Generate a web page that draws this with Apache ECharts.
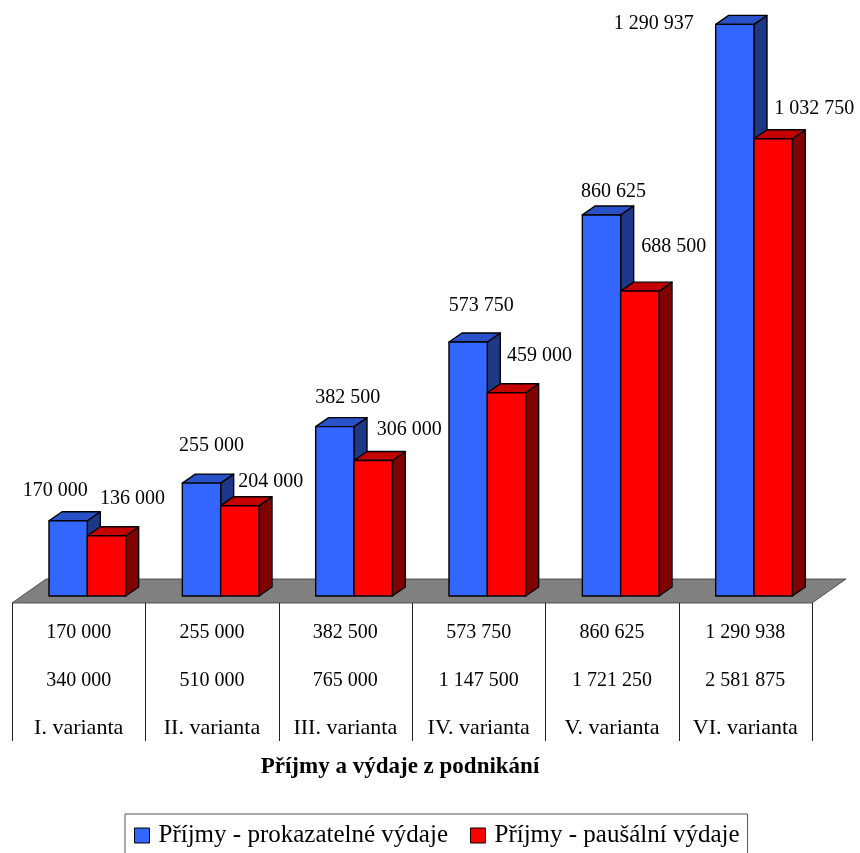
<!DOCTYPE html>
<html>
<head>
<meta charset="utf-8">
<script src="https://cdn.jsdelivr.net/npm/echarts@6/dist/echarts.min.js"></script>
<style>
  html, body { margin: 0; padding: 0; background: #fff; }
  #chart { width: 860px; height: 853px; }
</style>
</head>
<body>
<div id="chart"></div>
<script>
// Variants and the two income series
const categories = ['I. varianta', 'II. varianta', 'III. varianta', 'IV. varianta', 'V. varianta', 'VI. varianta'];
const provenExpenses = [170000, 255000, 382500, 573750, 860625, 1290937];
const flatRateExpenses = [136000, 204000, 306000, 459000, 688500, 1032750];
// Rows of the data table under the floor
const tableRow1 = [170000, 255000, 382500, 573750, 860625, 1290938];
const tableRow2 = [340000, 510000, 765000, 1147500, 1721250, 2581875];
const seriesNames = ['Příjmy - prokazatelné výdaje', 'Příjmy - paušální výdaje'];
const axisTitle = 'Příjmy a výdaje z podnikání';

// Value-label nudges [dx, dy] from the top centre of each bar's front face
const blueLabelShift = [[-13, -30], [10, -37], [13, -29], [13, -36], [12, -23], [-81, -1]];
const redLabelShift = [[26, -37], [31, -24], [36, -31], [33, -37], [34, -44], [41, -30]];

const SERIF = 'Liberation Serif';
const DEPTH_X = 13, DEPTH_Y = -9;
const FLOOR_FRONT = 7;      // floor front edge below the bar bases
const TABLE_BOTTOM = 145;   // end of the table's column lines below the bar bases

const blueFaces = { front: '#3366FF', top: '#2A52C8', side: '#1C3887' };
const redFaces = { front: '#FF0000', top: '#C40000', side: '#800000' };

function fmt(v) {
  return String(v).replace(/\B(?=(\d{3})+(?!\d))/g, ' ');
}

function barRenderer(slot, faces, shifts) {
  return function (params, api) {
    const i = api.value(0);
    const v = api.value(1);
    const top = api.coord([i, v]);
    const base = api.coord([i, 0]);
    const cw = api.size([1, 0])[0];
    const bw = cw * 0.2875;
    const x0 = base[0] - cw * 0.2225 + slot * bw;
    const t = top[1], b = base[1];
    const stroke = { stroke: '#000', lineWidth: 1.4, lineJoin: 'round' };
    const sh = shifts[i];
    return {
      type: 'group',
      children: [
        {
          type: 'polygon',
          shape: { points: [[x0 + bw, t], [x0 + bw + DEPTH_X, t + DEPTH_Y], [x0 + bw + DEPTH_X, b + DEPTH_Y], [x0 + bw, b]] },
          style: Object.assign({ fill: faces.side }, stroke)
        },
        {
          type: 'polygon',
          shape: { points: [[x0, t], [x0 + DEPTH_X, t + DEPTH_Y], [x0 + bw + DEPTH_X, t + DEPTH_Y], [x0 + bw, t]] },
          style: Object.assign({ fill: faces.top }, stroke)
        },
        {
          type: 'rect',
          shape: { x: x0, y: t, width: bw, height: b - t },
          style: Object.assign({ fill: faces.front }, stroke)
        },
        {
          type: 'text',
          x: x0 + bw / 2 + sh[0],
          y: t + sh[1],
          style: {
            text: fmt(v),
            align: 'center',
            verticalAlign: 'middle',
            fill: '#000',
            fontFamily: SERIF,
            fontSize: 20
          }
        }
      ]
    };
  };
}

// Grey floor plane under the bars
function floorRenderer(params, api) {
  const cs = params.coordSys;
  const y0 = api.coord([0, 0])[1];
  const front = y0 + FLOOR_FRONT, back = y0 - 17, shift = 34;
  return {
    type: 'polygon',
    shape: {
      points: [[cs.x, front], [cs.x + cs.width, front], [cs.x + cs.width + shift, back], [cs.x + shift, back]]
    },
    style: { fill: '#808080', stroke: '#3a3a3a', lineWidth: 0.8 }
  };
}

// Data-table cells below the floor, one column per variant
function tableRenderer(params, api) {
  const i = api.value(0);
  const p = api.coord([i, 0]);
  const cw = api.size([1, 0])[0];
  const rows = [
    { text: fmt(tableRow1[i]), dy: 37, size: 20 },
    { text: fmt(tableRow2[i]), dy: 85, size: 20 },
    { text: categories[i], dy: 132, size: 22 }
  ];
  const children = rows.map(r => ({
    type: 'text',
    x: p[0],
    y: p[1] + r.dy,
    style: {
      text: r.text,
      align: 'center',
      verticalAlign: 'middle',
      fill: '#000',
      fontFamily: SERIF,
      fontSize: r.size
    }
  }));
  const edges = [p[0] - cw / 2];
  if (i === categories.length - 1) edges.push(p[0] + cw / 2);
  edges.forEach(x => {
    const xx = Math.round(x) + 0.5;
    children.push({
      type: 'line',
      shape: { x1: xx, y1: p[1] + FLOOR_FRONT, x2: xx, y2: p[1] + TABLE_BOTTOM },
      style: { stroke: '#222', lineWidth: 1 }
    });
  });
  return { type: 'group', children: children };
}

const chart = echarts.init(document.getElementById('chart'), null, { renderer: 'canvas' });

chart.setOption({
  backgroundColor: '#ffffff',
  animation: false,
  textStyle: { fontFamily: SERIF, color: '#000' },
  grid: { left: 12, right: 48, top: 20.4, bottom: 257, containLabel: false },
  xAxis: {
    type: 'category',
    data: categories,
    boundaryGap: true,
    axisLine: { show: false },
    axisTick: { show: false },
    axisLabel: { show: false },
    splitLine: { show: false }
  },
  yAxis: {
    type: 'value',
    min: 0,
    max: 1300000,
    show: false
  },
  legend: {
    data: seriesNames,
    left: 125,
    top: 814,
    orient: 'horizontal',
    padding: [9, 8, 20, 9],
    itemGap: 22,
    itemWidth: 15,
    itemHeight: 15,
    icon: 'rect',
    borderColor: '#555',
    borderWidth: 1,
    selectedMode: false,
    itemStyle: { borderColor: '#000', borderWidth: 1 },
    textStyle: { fontFamily: SERIF, fontSize: 25, color: '#000', padding: [0, 0, 0, 4] }
  },
  graphic: [
    {
      type: 'text',
      x: 400,
      y: 767,
      style: {
        text: axisTitle,
        align: 'center',
        verticalAlign: 'middle',
        fill: '#000',
        fontFamily: SERIF,
        fontWeight: 'bold',
        fontSize: 23
      }
    }
  ],
  series: [
    {
      name: 'floor',
      type: 'custom',
      renderItem: floorRenderer,
      data: [[0, 0]],
      silent: true,
      z: 1
    },
    {
      name: 'table',
      type: 'custom',
      renderItem: tableRenderer,
      data: categories.map((c, i) => [i, 0]),
      encode: { x: 0, y: 1 },
      silent: true,
      z: 1
    },
    {
      name: seriesNames[0],
      type: 'custom',
      renderItem: barRenderer(0, blueFaces, blueLabelShift),
      itemStyle: { color: blueFaces.front },
      data: provenExpenses.map((v, i) => [i, v]),
      encode: { x: 0, y: 1 },
      z: 2
    },
    {
      name: seriesNames[1],
      type: 'custom',
      renderItem: barRenderer(1, redFaces, redLabelShift),
      itemStyle: { color: redFaces.front },
      data: flatRateExpenses.map((v, i) => [i, v]),
      encode: { x: 0, y: 1 },
      z: 3
    }
  ]
});
</script>
</body>
</html>
